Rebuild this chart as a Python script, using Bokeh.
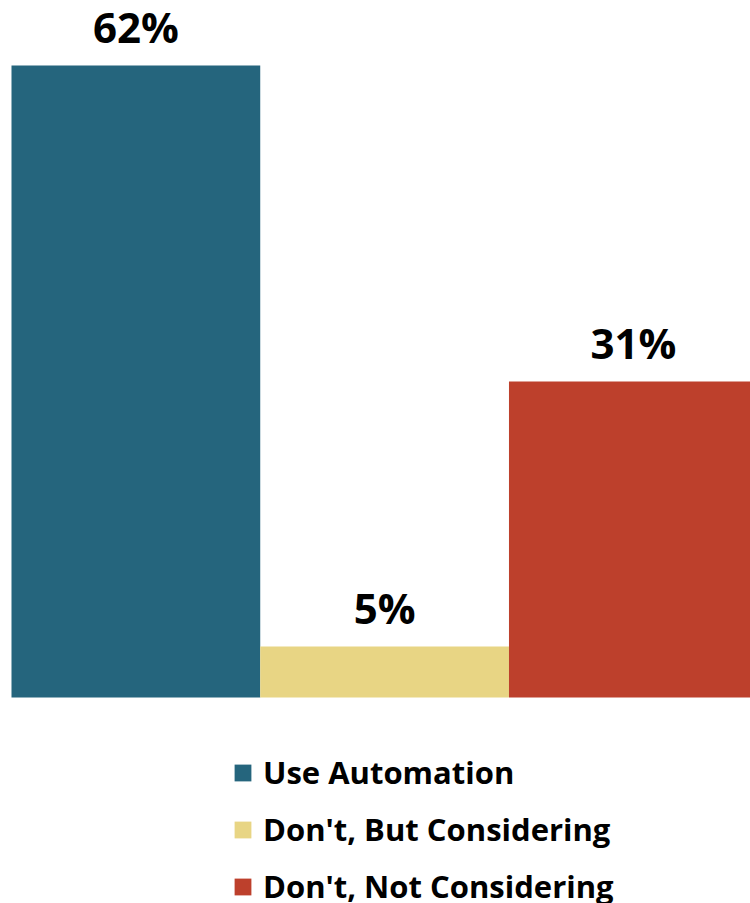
from bokeh.plotting import figure
from bokeh.models import ColumnDataSource, Legend, LegendItem, Range1d
from bokeh.core.properties import value
from bokeh.embed import file_html
from bokeh.resources import INLINE

categories = ["Use Automation", "Don't, But Considering", "Don't, Not Considering"]
values = [62, 5, 31]
labels = ["62%", "5%", "31%"]
colors = ["#25657D", "#E8D584", "#BD402C"]

src = ColumnDataSource(dict(
    x=[0.5, 1.5, 2.5],
    top=values,
    color=colors,
    label=labels,
    cat=categories,
))

p = figure(width=750, height=903, output_backend="svg", toolbar_location=None,
           x_range=Range1d(-0.0442, 2.971), y_range=Range1d(-20.21, 68.37),
           min_border_left=0, min_border_right=0, min_border_top=0, min_border_bottom=0)
p.axis.visible = False
p.grid.visible = False
p.outline_line_color = None
p.background_fill_color = "white"

r = p.vbar(x="x", top="top", width=1.0, bottom=0, color="color", line_color=None, source=src)

p.text(x="x", y="top", text="label", source=src, text_align="center",
       text_baseline="alphabetic", y_offset=-39,
       text_font=value("Open Sans"), text_font_style="bold", text_font_size="42px",
       text_color="black")

items = [LegendItem(label=categories[i], renderers=[r], index=i) for i in range(3)]
legend = Legend(items=items, location=(232, -4), orientation="vertical",
                glyph_width=21, glyph_height=21, label_standoff=10,
                label_text_font="Open Sans", label_text_font_style="bold",
                label_text_font_size="31px", label_text_color="black",
                spacing=15, padding=0, margin=0,
                border_line_color=None, background_fill_alpha=0)
p.add_layout(legend, "center")

open("out.html", "w").write(file_html(p, INLINE))
